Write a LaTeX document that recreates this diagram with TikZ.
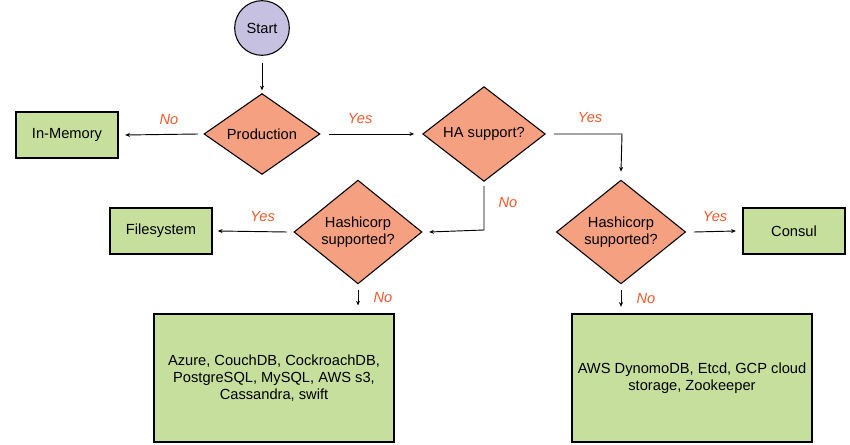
\documentclass[tikz,border=0pt]{standalone}
\usepackage{fontspec}
\setmainfont{Liberation Sans}
\usetikzlibrary{shapes.geometric,arrows.meta}
\definecolor{startfill}{HTML}{C6C1E1}
\definecolor{askfill}{HTML}{F5A081}
\definecolor{endfill}{HTML}{C6DF9C}
\definecolor{answer}{HTML}{F0592B}

\begin{document}
\begin{tikzpicture}[x=0.75pt,y=-0.75pt,
        font=\fontsize{11}{12.5}\selectfont,
        every path/.style={line width=0.8pt},
        start/.style={circle,draw,fill=startfill,minimum size=41pt,inner sep=0pt},
        ask/.style={diamond,draw,fill=askfill,inner sep=0pt,align=center},
        store/.style={rectangle,draw,fill=endfill,align=center,inner sep=0pt},
        answ/.style={text=answer,font=\fontsize{11}{12.5}\selectfont\itshape},
        go/.style={-{Stealth[length=3.5pt,width=3pt]},line width=0.7pt}]
    \useasboundingbox (0,0) rectangle (850,445);
    % question nodes
    \node[start](start)at(262,28){Start};
    \node[ask,minimum width=87pt,minimum height=52pt](prod)at(262,134){Production};
    \node[ask,minimum width=92pt,minimum height=52pt](ha)at(484,134){HA support?};
    \node[ask,minimum width=96pt,minimum height=65pt](hashl)at(358,232){Hashicorp\\supported?};
    \node[ask,minimum width=97pt,minimum height=66pt](hashr)at(621,232){Hashicorp\\supported?};
    % storage nodes
    \node[store,minimum width=76.5pt,minimum height=34.5pt](mem)at(67,135){In-Memory};
    \node[store,minimum width=76.5pt,minimum height=34.5pt](fs)at(161,231){Filesystem};
    \node[store,minimum width=76.5pt,minimum height=34.5pt](consul)at(794,231){Consul};
    \node[store,minimum width=180pt,minimum height=96pt](dbl)at(274,378){Azure, CouchDB, CockroachDB,\\PostgreSQL, MySQL, AWS s3,\\Cassandra, swift};
    \node[store,minimum width=180pt,minimum height=96pt](dbr)at(692,378){AWS DynomoDB, Etcd, GCP cloud\\storage, Zookeeper};
    % turning points
    \coordinate(hayes)at(622,134);
    \coordinate(hano)at(484,230);
    % arrows
    \draw[go]([yshift=-5pt]start.south)--([yshift=2pt]prod.north);
    \draw[go]([xshift=6pt]prod.east)--node[answ,above=4pt,pos=0.37]{Yes}([xshift=-6pt]ha.west);
    \draw[go]([xshift=-4pt]prod.west)--node[answ,above=4pt,pos=0.4]{No}([xshift=5pt]mem.east);
    \draw[go]([xshift=6pt]ha.east)--(hayes)--([yshift=6pt]hashr.north);
    \node[answ]at(590,118){Yes};
    \draw[go]([yshift=-3pt]ha.south)--(hano)--([xshift=5pt]hashl.east);
    \node[answ]at(508,203){No};
    \draw[go]([xshift=-5pt]hashl.west)--node[answ,above=4pt,pos=0.35]{Yes}([xshift=4pt]fs.east);
    \draw[go]([xshift=6pt]hashr.east)--node[answ,above=4pt]{Yes}([xshift=-5pt]consul.west);
    \draw[go]([yshift=-4pt]hashl.south)--node[answ,right=8pt]{No}([yshift=6pt]hashl.south|-dbl.north);
    \draw[go]([yshift=-4pt]hashr.south)--node[answ,right=8pt]{No}([yshift=5pt]hashr.south|-dbr.north);
\end{tikzpicture}
\end{document}
